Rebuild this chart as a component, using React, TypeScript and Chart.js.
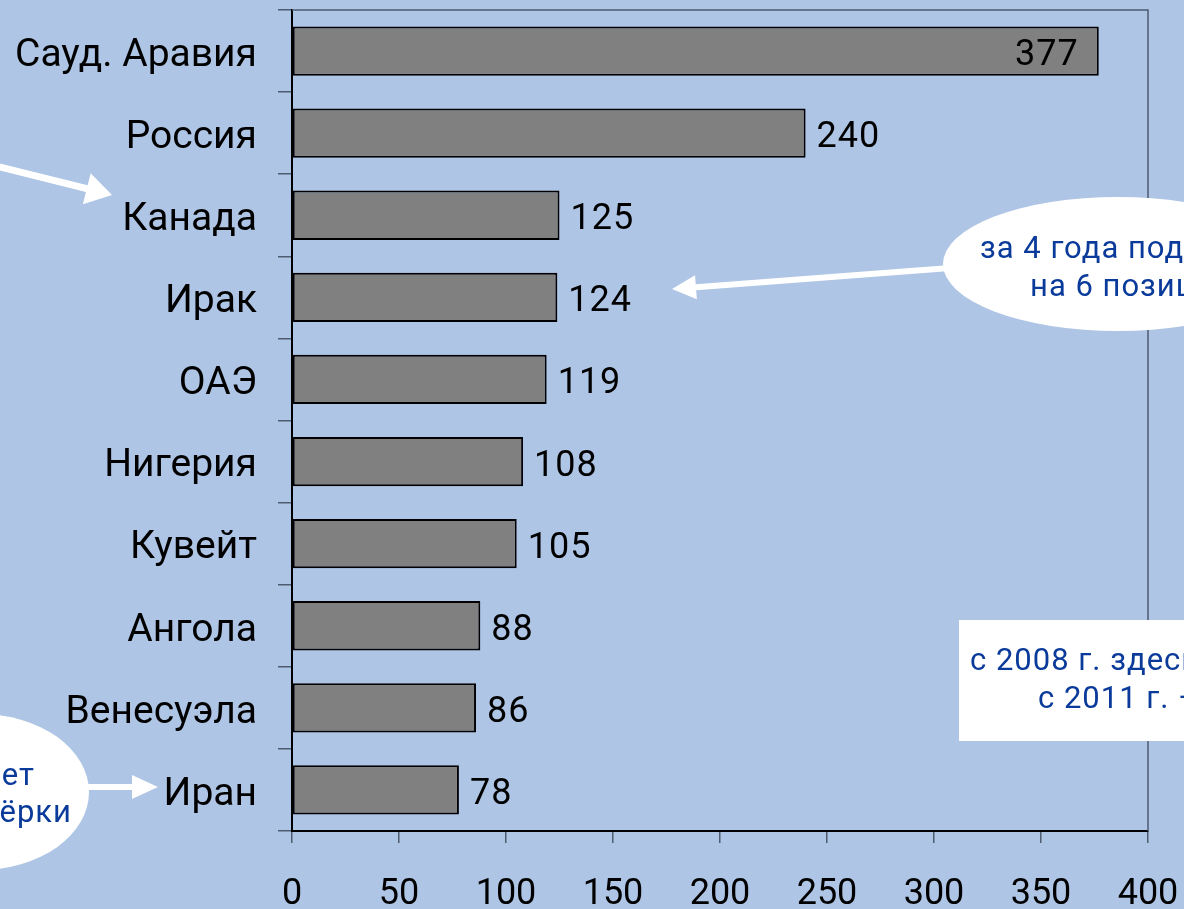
import React, { useEffect, useRef } from "react";
import { Chart, registerables } from "chart.js";

Chart.register(...registerables);

// ---- data ----
const countries = [
  "Сауд. Аравия",
  "Россия",
  "Канада",
  "Ирак",
  "ОАЭ",
  "Нигерия",
  "Кувейт",
  "Ангола",
  "Венесуэла",
  "Иран",
];
const exportsMt = [377, 240, 125, 124, 119, 108, 105, 88, 86, 78];
const xMin = 0;
const xMax = 400;
const xStep = 50;
const insideLabelThreshold = 300;

const noteIraq = ["за 4 года поднялся", "на 6 позиций"];
const noteBox = ["с 2008 г. здесь нет Норвегии,", "с 2011 г. — Ливии"];
const noteIran = ["Иран покидает", "из первой пятёрки"];

const BG = "#afc5e5";
const NOTE_BLUE = "#0a3a9a";
const FONT = "Roboto, 'Noto Sans', sans-serif";

function arrow(
  ctx: CanvasRenderingContext2D,
  x1: number,
  y1: number,
  x2: number,
  y2: number,
  shaft: number,
  headLen: number,
  headHalf: number
) {
  const ang = Math.atan2(y2 - y1, x2 - x1);
  const len = Math.hypot(x2 - x1, y2 - y1);
  ctx.save();
  ctx.translate(x1, y1);
  ctx.rotate(ang);
  ctx.fillStyle = "#ffffff";
  ctx.beginPath();
  ctx.moveTo(0, -shaft / 2);
  ctx.lineTo(len - headLen, -shaft / 2);
  ctx.lineTo(len - headLen, -headHalf);
  ctx.lineTo(len, 0);
  ctx.lineTo(len - headLen, headHalf);
  ctx.lineTo(len - headLen, shaft / 2);
  ctx.lineTo(0, shaft / 2);
  ctx.closePath();
  ctx.fill();
  ctx.restore();
}

const bgPlugin = {
  id: "bgFill",
  beforeDraw(chart: any) {
    const { ctx, width, height } = chart;
    ctx.save();
    ctx.fillStyle = BG;
    ctx.fillRect(0, 0, width, height);
    ctx.restore();
  },
};

const framePlugin = {
  id: "frame",
  beforeDatasetsDraw(chart: any) {
    const { ctx, chartArea } = chart;
    ctx.save();
    ctx.strokeStyle = "#4e5b70";
    ctx.lineWidth = 1.5;
    ctx.beginPath();
    ctx.moveTo(chartArea.left, chartArea.top);
    ctx.lineTo(chartArea.right, chartArea.top);
    ctx.lineTo(chartArea.right, chartArea.bottom);
    ctx.stroke();
    ctx.restore();
  },
};

const valueLabelPlugin = {
  id: "valueLabels",
  afterDatasetsDraw(chart: any) {
    const { ctx } = chart;
    const meta = chart.getDatasetMeta(0);
    ctx.save();
    ctx.font = `36px ${FONT}`;
    ctx.fillStyle = "#000";
    ctx.textBaseline = "middle";
    (ctx as any).letterSpacing = "1px";
    meta.data.forEach((bar: any, i: number) => {
      const v = exportsMt[i];
      const txt = String(v);
      if (v > insideLabelThreshold) {
        ctx.textAlign = "right";
        ctx.fillText(txt, bar.x - 20, bar.y + 5);
      } else {
        ctx.textAlign = "left";
        ctx.fillText(txt, bar.x + 11, bar.y + 5);
      }
    });
    ctx.restore();
  },
};

const notesPlugin = {
  id: "notes",
  afterDraw(chart: any) {
    const { ctx } = chart;
    ctx.save();
    // arrow to Канада from off-canvas note
    arrow(ctx, -20, 162, 112, 195, 7, 26, 16);

    // Iraq note ellipse
    ctx.fillStyle = "#ffffff";
    ctx.beginPath();
    ctx.ellipse(1118, 264, 175, 67, 0, 0, Math.PI * 2);
    ctx.fill();
    arrow(ctx, 950, 268, 672, 289, 6, 24, 12);

    // box note
    ctx.fillStyle = "#ffffff";
    ctx.fillRect(959, 620, 260, 121);

    // Iran note ellipse
    ctx.beginPath();
    ctx.ellipse(-20, 792, 109, 78, 0, 0, Math.PI * 2);
    ctx.fill();
    arrow(ctx, 80, 787, 158, 787, 6, 26, 12);

    ctx.fillStyle = NOTE_BLUE;
    ctx.font = `31px ${FONT}`;
    ctx.textBaseline = "middle";
    (ctx as any).letterSpacing = "1px";
    ctx.textAlign = "left";
    ctx.fillText(noteIraq[0], 980, 250);
    ctx.fillText(noteIraq[1], 1030, 288);
    ctx.fillText(noteBox[0], 970, 662);
    ctx.fillText(noteBox[1], 1038, 700);
    ctx.textAlign = "right";
    ctx.fillText(noteIran[0], 35, 777);
    ctx.fillText(noteIran[1], 72, 814);
    ctx.restore();
  },
};

export default function App() {
  const canvasRef = useRef<HTMLCanvasElement | null>(null);

  useEffect(() => {
    document.body.style.margin = "0";
    const canvas = canvasRef.current;
    if (!canvas) return;
    const chart = new Chart(canvas, {
      type: "bar",
      data: {
        labels: countries,
        datasets: [
          {
            data: exportsMt,
            backgroundColor: "#808080",
            borderColor: "#000000",
            borderWidth: 2,
            borderSkipped: false,
            barPercentage: 0.6,
            categoryPercentage: 1,
          },
        ],
      },
      options: {
        indexAxis: "y",
        responsive: false,
        animation: false,
        layout: { padding: { top: 10, right: 36, left: 0, bottom: 0 } },
        plugins: {
          legend: { display: false },
          tooltip: { enabled: false },
        },
        scales: {
          x: {
            min: xMin,
            max: xMax,
            ticks: {
              stepSize: xStep,
              color: "#000",
              font: { family: FONT, size: 36 },
              padding: 30,
              maxRotation: 0,
            },
            grid: {
              drawOnChartArea: false,
              drawTicks: true,
              tickLength: 12,
              color: "#4e5b70",
              lineWidth: 1.5,
            },
            border: { color: "#000", width: 2 },
            afterFit(scale: any) {
              scale.height = 78;
              scale.paddingLeft = 0;
              scale.paddingRight = 0;
            },
          },
          y: {
            ticks: {
              color: "#000",
              font: { family: FONT, size: 39 },
              padding: 21,
              labelOffset: 5,
            },
            grid: {
              drawOnChartArea: false,
              drawTicks: true,
              tickLength: 14,
              color: "#4e5b70",
              lineWidth: 1.5,
              offset: true,
            },
            border: { color: "#000", width: 2 },
            afterFit(scale: any) {
              scale.width = 292;
              scale.paddingTop = 0;
              scale.paddingBottom = 0;
            },
          },
        },
      },
      plugins: [bgPlugin, framePlugin, valueLabelPlugin, notesPlugin],
    });
    return () => chart.destroy();
  }, []);

  return (
    <div style={{ width: 1184, height: 909, overflow: "hidden" }}>
      <canvas ref={canvasRef} width={1184} height={909} style={{ display: "block" }} />
    </div>
  );
}
